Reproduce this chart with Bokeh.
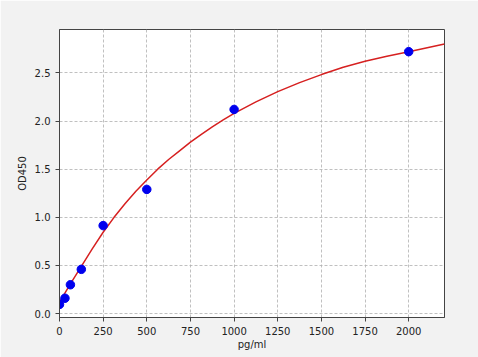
from bokeh.plotting import figure
from bokeh.models import Range1d, FixedTicker
from bokeh.embed import file_html
from bokeh.resources import INLINE

# Standard points
conc = [0, 31.25, 62.5, 125, 250, 500, 1000, 2000]
od = [0.096, 0.16, 0.30, 0.46, 0.914, 1.29, 2.12, 2.72]

# Fitted curve
curve_x = [0, 62.5, 125, 187.5, 250, 312.5, 375, 437.5, 500, 562.5, 625, 687.5,
           750, 812.5, 875, 937.5, 1000, 1125, 1250, 1375, 1500, 1625, 1750,
           1875, 2000, 2205]
curve_y = [0.12, 0.31, 0.49, 0.672, 0.845, 1.0, 1.14, 1.27, 1.387, 1.50, 1.60,
           1.69, 1.78, 1.862, 1.94, 2.012, 2.08, 2.198, 2.305, 2.398, 2.482,
           2.558, 2.62, 2.672, 2.72, 2.80]

x_ticks = [0, 250, 500, 750, 1000, 1250, 1500, 1750, 2000]
y_ticks = [0.0, 0.5, 1.0, 1.5, 2.0, 2.5]

p = figure(width=478, height=357, output_backend="svg", toolbar_location=None,
           x_range=Range1d(0, 2205), y_range=Range1d(-0.04, 2.95),
           min_border_left=59, min_border_right=34, min_border_top=29,
           min_border_bottom=40)

p.background_fill_color = "white"
p.border_fill_color = "#f2f2f2"
p.outline_line_color = "#444444"
p.outline_line_width = 1

p.line(curve_x, curve_y, line_color="#d62020", line_width=1.5)
p.scatter(conc, od, size=8.5, fill_color="#0000ee", line_color="#0000ee")

for ax in (p.xaxis[0], p.yaxis[0]):
    ax.axis_line_color = "#444444"
    ax.major_tick_line_color = "#444444"
    ax.major_tick_out = 4
    ax.major_tick_in = 0
    ax.minor_tick_line_color = None
    ax.major_label_text_font = "DejaVu Sans"
    ax.major_label_text_font_size = "10px"
    ax.major_label_text_color = "#222222"
    ax.axis_label_text_font = "DejaVu Sans"
    ax.axis_label_text_font_size = "10px"
    ax.axis_label_text_font_style = "normal"
    ax.axis_label_text_color = "#222222"

p.xaxis.ticker = FixedTicker(ticks=x_ticks)
p.yaxis.ticker = FixedTicker(ticks=y_ticks)
p.yaxis.major_label_overrides = {v: f"{v:.1f}" for v in y_ticks}
p.xaxis.axis_label = "pg/ml"
p.yaxis.axis_label = "OD450"
p.xaxis.axis_label_standoff = 1
p.yaxis.axis_label_standoff = 4

for g in (p.xgrid[0], p.ygrid[0]):
    g.grid_line_color = "#b0b0b0"
    g.grid_line_dash = "3 2"
    g.grid_line_width = 0.8

open("out.html", "w").write(file_html(p, INLINE))
